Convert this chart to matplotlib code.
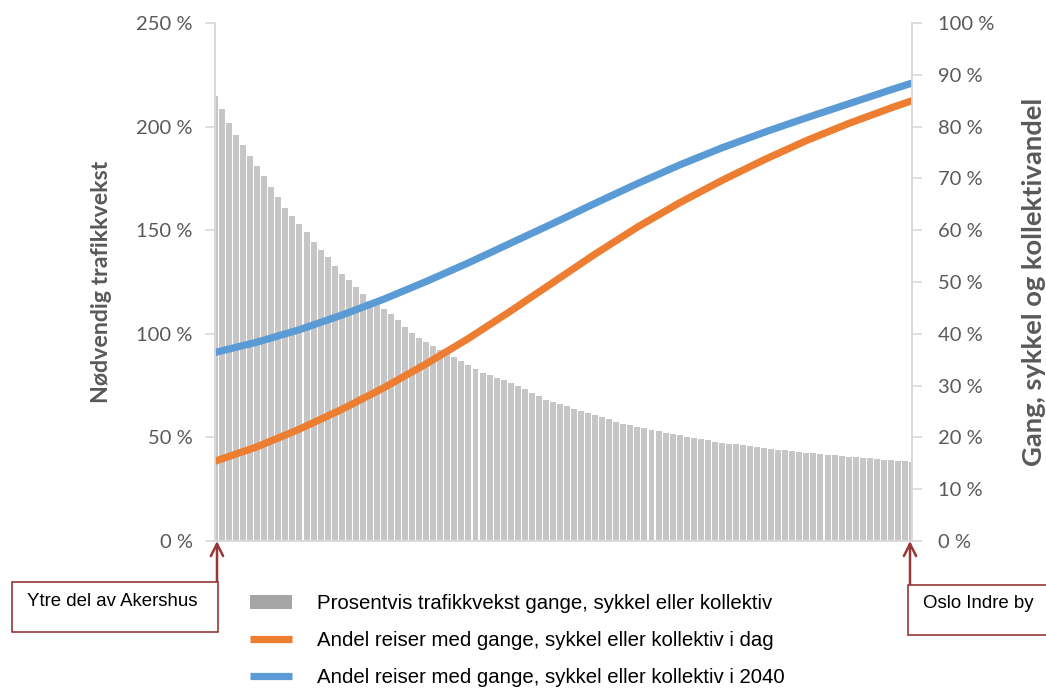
import numpy as np
import matplotlib.pyplot as plt
from matplotlib.patches import Rectangle, Patch

# Prosentvis trafikkvekst (venstre akse), ytre Akershus -> Oslo indre by
bar_values = [
    215.0, 208.5, 201.8, 196.0, 190.9, 186.0, 181.0, 176.0, 171.0, 165.8,
    160.9, 157.0, 153.2, 149.2, 144.5, 140.5, 137.0, 132.8, 129.0, 126.0,
    122.7, 119.3, 116.0, 113.9, 111.8, 109.6, 106.5, 103.5, 100.4, 98.2,
    96.1, 94.0, 92.2, 90.4, 88.6, 86.7, 84.8, 82.9, 81.3, 80.0,
    78.7, 77.5, 76.3, 74.8, 73.2, 71.5, 69.9, 68.2, 67.1, 66.0,
    65.0, 63.9, 62.9, 61.8, 60.8, 59.7, 58.7, 57.6, 56.7, 56.0,
    55.2, 54.5, 53.8, 53.0, 52.3, 51.7, 51.0, 50.3, 49.7, 49.1,
    48.6, 48.0, 47.5, 47.0, 46.6, 46.1, 45.7, 45.3, 44.9, 44.5,
    44.1, 43.7, 43.4, 43.1, 42.7, 42.4, 42.1, 41.7, 41.4, 41.0,
    40.7, 40.5, 40.2, 39.9, 39.6, 39.3, 39.0, 38.8, 38.5, 38.3,
]

# Andeler (hoyre akse), avlest ved hver sjette kategori
line_idx = [0, 6, 12, 18, 24, 30, 36, 42, 48, 54, 60, 66, 72, 78, 84, 90, 96, 99]
share_today = [15.4, 18.2, 21.6, 25.4, 29.6, 34.2, 39.1, 44.4, 49.9,
               55.4, 60.6, 65.3, 69.6, 73.6, 77.3, 80.6, 83.6, 85.0]
share_2040 = [36.4, 38.4, 40.8, 43.6, 46.7, 50.1, 53.7, 57.5, 61.3,
              65.2, 69.0, 72.6, 75.9, 78.9, 81.7, 84.4, 87.1, 88.4]

left_ticks = [0, 50, 100, 150, 200, 250]
right_ticks = [0, 10, 20, 30, 40, 50, 60, 70, 80, 90, 100]

label_bars = "Prosentvis trafikkvekst gange, sykkel eller kollektiv"
label_today = "Andel reiser med gange, sykkel eller kollektiv i dag"
label_2040 = "Andel reiser med gange, sykkel eller kollektiv i 2040"

W, H = 1046, 693
fig = plt.figure(figsize=(W / 100, H / 100), dpi=100)
ax = fig.add_axes([215 / W, (H - 541) / H, 697 / W, 518 / H])
ax2 = ax.twinx()

tick_col = "#595959"
axis_col = "#d9d9d9"
orange = "#ED7D31"
blue = "#5B9BD5"
red = "#953735"

n = len(bar_values)
x = np.arange(n)
ax.bar(x, bar_values, width=0.85, color="#c6c6c6", linewidth=0, zorder=1)
ax.set_xlim(0, n - 1)
ax.set_ylim(0, 250)
ax.set_yticks(left_ticks)
ax.set_yticklabels([f"{v} %" for v in left_ticks])
ax.set_xticks([])

l1, = ax2.plot(line_idx, share_today, color=orange, lw=5.2,
               solid_capstyle="butt", solid_joinstyle="round")
l2, = ax2.plot(line_idx, share_2040, color=blue, lw=5.2,
               solid_capstyle="butt", solid_joinstyle="round")
ax2.set_ylim(0, 100)
ax2.set_yticks(right_ticks)
ax2.set_yticklabels([f"{v} %" for v in right_ticks])

for a in (ax, ax2):
    for s in a.spines.values():
        s.set_color(axis_col)
        s.set_linewidth(1.2)
    a.spines["top"].set_visible(False)
    a.tick_params(axis="y", colors=axis_col, labelcolor=tick_col, length=7,
                  width=1.2, labelsize=14.5)
    for t in a.get_yticklabels():
        t.set_family("Lato")
ax.tick_params(axis="y", pad=9)
ax2.tick_params(axis="y", pad=12)

ax.set_ylabel("Nødvendig trafikkvekst", family="Lato", fontweight="bold",
              fontsize=16.7, color=tick_col)
ax.yaxis.set_label_coords(-0.148, 0.5)
ax2.set_ylabel("Gang, sykkel og kollektivandel", family="Lato", fontweight="bold",
               fontsize=19.7, color=tick_col)
ax2.yaxis.set_label_coords(1.158, 0.5)

# legend
bar_patch = Patch(facecolor="#a5a5a5", edgecolor="none")
fig.legend([bar_patch, l1, l2], [label_bars, label_today, label_2040],
           loc="upper left", bbox_to_anchor=(250 / W, (H - 594) / H),
           frameon=False, borderpad=0, borderaxespad=0, handlelength=2.05,
           handletextpad=1.22, labelspacing=0.88,
           prop={"family": "Liberation Sans", "size": 14.7})

# annotation boxes
def note_box(x0, x1, y_top, y_bot, text, tx, ty, arrow_x):
    fig.add_artist(Rectangle((x0 / W, (H - y_bot) / H), (x1 - x0) / W,
                             (y_bot - y_top) / H, transform=fig.transFigure,
                             facecolor="white", edgecolor=red, lw=1.2))
    fig.text(tx / W, (H - ty) / H, text, ha="left", va="center",
             family="Liberation Sans", fontsize=13.4, color="black")
    ax.annotate("", xy=(arrow_x / W, (H - 541) / H), xycoords="figure fraction",
                xytext=(arrow_x / W, (H - y_top) / H), textcoords="figure fraction",
                arrowprops=dict(arrowstyle="->", color=red, lw=1.8,
                                mutation_scale=22, shrinkA=0, shrinkB=0),
                annotation_clip=False)

note_box(12, 218, 582, 632, "Ytre del av Akershus", 27, 601, 217)
note_box(908, 1060, 585, 635, "Oslo Indre by", 923, 604, 910)

fig.savefig("out.png", dpi=100)
